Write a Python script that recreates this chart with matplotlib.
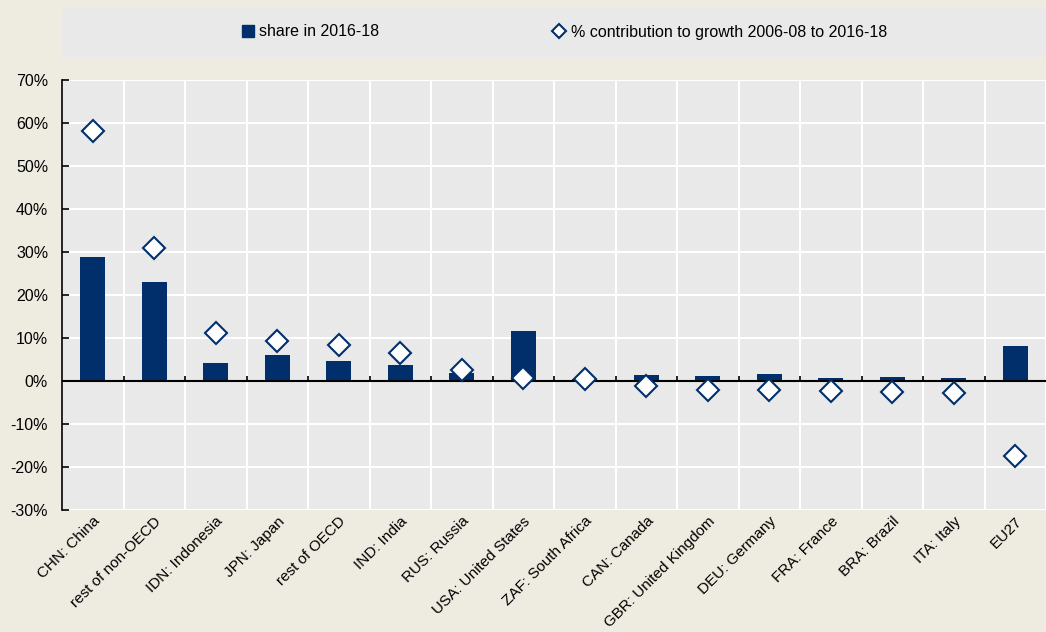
import matplotlib.pyplot as plt
import numpy as np
from matplotlib.lines import Line2D
from matplotlib.patches import Rectangle
from matplotlib.ticker import FuncFormatter, FixedLocator

plt.rcParams['font.family'] = ['Liberation Sans', 'DejaVu Sans']

categories = ["CHN: China", "rest of non-OECD", "IDN: Indonesia", "JPN: Japan",
              "rest of OECD", "IND: India", "RUS: Russia", "USA: United States",
              "ZAF: South Africa", "CAN: Canada", "GBR: United Kingdom",
              "DEU: Germany", "FRA: France", "BRA: Brazil", "ITA: Italy", "EU27"]

# share in 2016-18 (%)
share = [28.8, 23.0, 4.3, 6.1, 4.6, 3.8, 1.8, 11.7, 0.4, 1.4, 1.1, 1.6, 0.8, 1.0, 0.7, 8.1]
# % contribution to growth 2006-08 to 2016-18
contrib = [58.1, 31.0, 11.2, 9.2, 8.3, 6.5, 2.6, 0.8, 0.4, -1.1, -2.2, -2.1, -2.4, -2.5, -2.8, -17.4]

navy = '#002F6C'
plot_bg = '#E9E9E9'
fig_bg = '#EEEBE0'
fs = 11.5

fig = plt.figure(figsize=(10.46, 6.32), dpi=100, facecolor=fig_bg)
ax = fig.add_axes([62 / 1046, 122 / 632, 984 / 1046, 430 / 632])
ax.set_facecolor(plot_bg)

x = np.arange(len(categories))
bounds = np.arange(-0.5, len(categories), 1)

ax.bar(x, share, width=0.4, color=navy, zorder=3)

# zero line and its small ticks at category boundaries
ax.axhline(0, color='black', linewidth=1.5, zorder=4)
ax.vlines(bounds[1:-1], 0, 1.2, color='black', linewidth=1.2, zorder=4)

ax.plot(x, contrib, linestyle='None', marker='D', markersize=11,
        markerfacecolor='white', markeredgecolor=navy, markeredgewidth=1.5, zorder=5)

ax.set_xlim(-0.5, len(categories) - 0.5)
ax.set_ylim(-30, 70)
ax.set_yticks(np.arange(-30, 71, 10))
ax.yaxis.set_major_formatter(FuncFormatter(lambda v, p: f"{int(v)}%"))

# grid: horizontal at every 10%, vertical at category boundaries
ax.xaxis.set_minor_locator(FixedLocator(bounds))
ax.grid(True, axis='y', which='major', color='white', linewidth=1.5, zorder=0)
ax.grid(True, axis='x', which='minor', color='white', linewidth=1.5, zorder=0)
ax.set_axisbelow(True)

ax.set_xticks(x)
ax.set_xticklabels(categories, rotation=45, ha='right', rotation_mode='anchor', fontsize=11)
ax.tick_params(axis='x', which='both', length=0, pad=3)
ax.tick_params(axis='y', direction='in', length=5, width=1.2, labelsize=fs, pad=10)

for s in ['top', 'right', 'bottom']:
    ax.spines[s].set_visible(False)
ax.spines['left'].set_color('black')
ax.spines['left'].set_linewidth(1.2)

# legend band
fig.patches.append(Rectangle((62 / 1046, (632 - 57) / 632), 984 / 1046, 49 / 632,
                             transform=fig.transFigure, facecolor=plot_bg, edgecolor='none', zorder=0))
handles = [Line2D([], [], linestyle='None', marker='s', markersize=9, color=navy),
           Line2D([], [], linestyle='None', marker='D', markersize=7,
                  markerfacecolor='white', markeredgecolor=navy, markeredgewidth=1.5)]
fig.legend(handles, ["share in 2016-18", "% contribution to growth 2006-08 to 2016-18"],
           loc='center', bbox_to_anchor=(0.54, (632 - 32) / 632), ncol=2, frameon=False,
           fontsize=fs, handlelength=0.6, handletextpad=0.4, columnspacing=11.0)

fig.savefig('out.png', dpi=100, facecolor=fig_bg)
